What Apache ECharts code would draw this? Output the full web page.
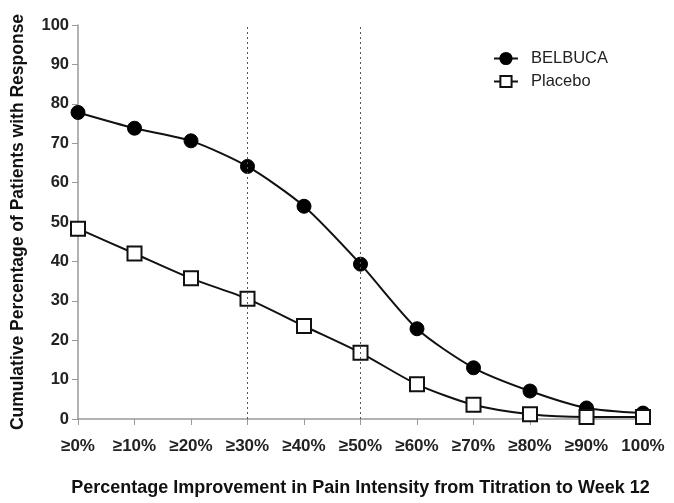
<!DOCTYPE html>
<html><head><meta charset="utf-8">
<script src="https://cdn.jsdelivr.net/npm/echarts@6/dist/echarts.min.js"></script>
<style>html,body{margin:0;padding:0;background:#fff}#c{width:674px;height:503px}</style>
</head><body><div id="c"></div>
<script>
const categories = ['≥0%','≥10%','≥20%','≥30%','≥40%','≥50%','≥60%','≥70%','≥80%','≥90%','100%'];
const belbuca = [77.8, 73.8, 70.6, 64.1, 54.0, 39.3, 22.9, 13.0, 7.1, 2.8, 1.5];
const placebo = [48.3, 42.0, 35.7, 30.5, 23.6, 16.8, 8.8, 3.6, 1.2, 0.5, 0.5];
const yTicks = [0,10,20,30,40,50,60,70,80,90,100];
const refLines = ['≥30%','≥50%'];
const font = 'Liberation Sans, Arial, sans-serif';
const chart = echarts.init(document.getElementById('c'));
chart.setOption({
  animation:false,
  backgroundColor:'#fff',
  grid:{left:78,right:31,top:25,bottom:84,outerBoundsMode:'none',containLabel:false},
  legend:{
    right:61, top:45, orient:'vertical', itemGap:6, itemWidth:24, itemHeight:14,
    textStyle:{fontFamily:font,fontSize:16.5,color:'#222',padding:[0,0,0,8]},
    data:['BELBUCA','Placebo']
  },
  xAxis:{
    type:'category', data:categories, boundaryGap:false,
    name:'Percentage Improvement in Pain Intensity from Titration to Week 12',
    nameLocation:'middle', nameGap:60,
    nameTextStyle:{fontFamily:font,fontSize:18,fontWeight:'bold',color:'#111'},
    axisLine:{lineStyle:{color:'#999',width:1.5}},
    axisTick:{show:true,alignWithLabel:true,length:6,lineStyle:{color:'#999'}},
    axisLabel:{fontFamily:font,fontSize:17,fontWeight:'bold',color:'#222',margin:19,interval:0}
  },
  yAxis:{
    type:'value', min:0, max:100, interval:10,
    name:'Cumulative Percentage of Patients with Response',
    nameLocation:'middle', nameGap:51, nameRotate:90,
    nameTextStyle:{fontFamily:font,fontSize:17.5,fontWeight:'bold',color:'#111'},
    axisLine:{show:true,lineStyle:{color:'#999',width:1.5}},
    axisTick:{show:true,length:6,lineStyle:{color:'#999'}},
    splitLine:{show:false},
    axisLabel:{fontFamily:font,fontSize:16.5,fontWeight:'bold',color:'#222',margin:9,
      formatter:v=>yTicks.includes(v)?String(v):''}
  },
  series:[
    {
      name:'BELBUCA', type:'line', data:belbuca, smooth:0.25,
      symbol:'circle', symbolSize:14,
      lineStyle:{color:'#111',width:2},
      itemStyle:{color:'#000',borderColor:'#000',borderWidth:1},
      z:3,
      markLine:{
        silent:true, symbol:'none', label:{show:false},
        lineStyle:{type:[2,3],color:'#555',width:1},
        data:refLines.map(c=>({xAxis:c}))
      }
    },
    {
      name:'Placebo', type:'line', data:placebo, smooth:0.25,
      symbol:'rect', symbolSize:14,
      lineStyle:{color:'#111',width:2},
      itemStyle:{color:'#fff',borderColor:'#111',borderWidth:2},
      z:4
    }
  ]
});
</script></body></html>
